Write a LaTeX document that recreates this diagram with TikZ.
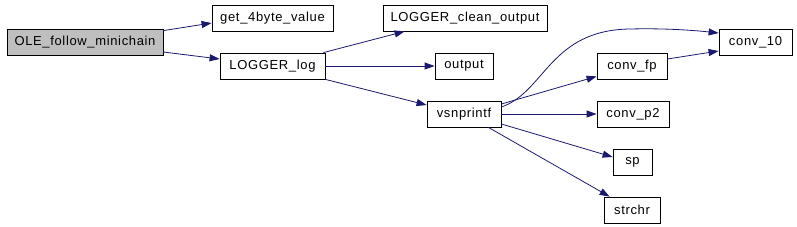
\documentclass[tikz,border=0pt]{standalone}
\usepackage{fontspec}
\setmainfont{Liberation Sans}
\newfontfamily\labfont[LetterSpace=5]{Liberation Sans}
\usetikzlibrary{arrows.meta}
\definecolor{edgecol}{HTML}{191970}
\definecolor{hlfill}{HTML}{BFBFBF}
\begin{document}
\begin{tikzpicture}[x=1pt,y=-1pt,
  box/.style={draw=black,line width=0.8pt,minimum height=26pt,inner sep=0pt,font=\labfont\fontsize{13}{15}\selectfont},
  edge/.style={draw=edgecol,line width=0.8pt,-{Triangle[length=10pt,width=7pt]}}]
\useasboundingbox (0,0) rectangle (797,226);
\node[box,fill=hlfill,minimum width=156pt] (ole) at (85,42) {OLE\_follow\_minichain};
\node[box,minimum width=121pt] (get4) at (272.5,18) {get\_4byte\_value};
\node[box,minimum width=105pt] (log) at (272.5,66) {LOGGER\_log};
\node[box,minimum width=164pt] (clean) at (465,18) {LOGGER\_clean\_output};
\node[box,minimum width=58pt] (output) at (464,66) {output};
\node[box,minimum width=74pt] (vsn) at (464,114) {vsnprintf};
\node[box,minimum width=73pt] (conv10) at (755.5,42) {conv\_10};
\node[box,minimum width=70pt] (convfp) at (632,66) {conv\_fp};
\node[box,minimum width=72pt] (convp2) at (633,114) {conv\_p2};
\node[box,minimum width=39pt] (sp) at (632.5,162) {sp};
\node[box,minimum width=56pt] (strchr) at (632,210) {strchr};

\draw[edge] ([yshift=-2pt]ole.north east) -- ([yshift=-5pt]get4.west);
\draw[edge] ([yshift=-10pt]ole.east) -- ([yshift=7pt]log.west);
\draw[edge] ([xshift=-2pt]log.north east) -- ([xshift=22pt]clean.south west);
\draw[edge] (log.east) -- (output.west);
\draw[edge] (log.south east) -- ([yshift=9pt]vsn.west);
\draw[edge] ([yshift=7pt]vsn.east) .. controls (545,92) and (550,30) .. (630,29) .. controls (670,28) and (700,31) .. ([yshift=9pt]conv10.west);
\draw[edge] ([yshift=10pt]vsn.east) -- ([yshift=3pt]convfp.south west);
\draw[edge] ([yshift=7pt]convfp.east) -- ([yshift=-9pt]conv10.west);
\draw[edge] (vsn.east) -- (convp2.west);
\draw[edge] ([yshift=-10pt]vsn.east) -- ([yshift=5pt]sp.west);
\draw[edge] ([xshift=-13pt]vsn.south east) -- ([xshift=6pt]strchr.north west);
\end{tikzpicture}
\end{document}
